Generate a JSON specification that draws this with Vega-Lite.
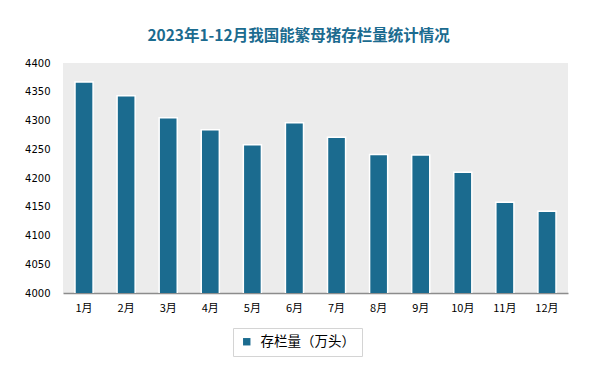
{
  "$schema": "https://vega.github.io/schema/vega-lite/v6.json",
  "width": 505,
  "height": 230,
  "autosize": "none",
  "padding": {"left": 63, "top": 63, "right": 27, "bottom": 81},
  "background": "white",
  "view": {"fill": "#ececec", "stroke": null},
  "title": {
    "text": "2023年1-12月我国能繁母猪存栏量统计情况",
    "font": "Noto Sans CJK SC",
    "fontSize": 15.5,
    "fontWeight": "bold",
    "color": "#1b6b8f",
    "anchor": "middle",
    "dx": -17,
    "offset": 14
  },
  "data": {
    "values": [
      {"month": "1月", "value": 4367, "series": "存栏量（万头）"},
      {"month": "2月", "value": 4343, "series": "存栏量（万头）"},
      {"month": "3月", "value": 4305, "series": "存栏量（万头）"},
      {"month": "4月", "value": 4284, "series": "存栏量（万头）"},
      {"month": "5月", "value": 4258, "series": "存栏量（万头）"},
      {"month": "6月", "value": 4296, "series": "存栏量（万头）"},
      {"month": "7月", "value": 4271, "series": "存栏量（万头）"},
      {"month": "8月", "value": 4241, "series": "存栏量（万头）"},
      {"month": "9月", "value": 4240, "series": "存栏量（万头）"},
      {"month": "10月", "value": 4210, "series": "存栏量（万头）"},
      {"month": "11月", "value": 4158, "series": "存栏量（万头）"},
      {"month": "12月", "value": 4142, "series": "存栏量（万头）"}
    ]
  },
  "mark": {"type": "bar", "stroke": "white", "strokeWidth": 1.5, "clip": true},
  "encoding": {
    "x": {
      "field": "month",
      "type": "nominal",
      "sort": null,
      "scale": {"paddingInner": 0.57, "paddingOuter": 0.285},
      "axis": {
        "title": null,
        "labelAngle": 0,
        "labelFont": "Noto Sans CJK SC",
        "labelFontSize": 11,
        "labelColor": "#000000",
        "labelPadding": 9,
        "ticks": false,
        "domainColor": "#8c8c8c",
        "domainWidth": 1.5
      }
    },
    "y": {
      "field": "value",
      "type": "quantitative",
      "scale": {"domain": [4000, 4400], "zero": false, "nice": false},
      "axis": {
        "title": null,
        "format": "d",
        "values": [4000, 4050, 4100, 4150, 4200, 4250, 4300, 4350, 4400],
        "labelFont": "DejaVu Sans",
        "labelFontSize": 10,
        "labelColor": "#000000",
        "labelPadding": 13,
        "ticks": false,
        "domain": false,
        "grid": false
      }
    },
    "color": {
      "field": "series",
      "type": "nominal",
      "scale": {"range": ["#1b6b8f"]},
      "legend": {
        "title": null,
        "orient": "none",
        "legendX": 170,
        "legendY": 265,
        "direction": "horizontal",
        "symbolType": "square",
        "symbolSize": 55,
        "labelFont": "Noto Sans CJK SC",
        "labelFontSize": 13.5,
        "labelColor": "#000000",
        "padding": 7,
        "strokeColor": "#d4d4d4",
        "fillColor": "white",
        "labelOffset": 7
      }
    }
  },
  "config": {"legend": {"symbolStrokeWidth": 0}}
}
